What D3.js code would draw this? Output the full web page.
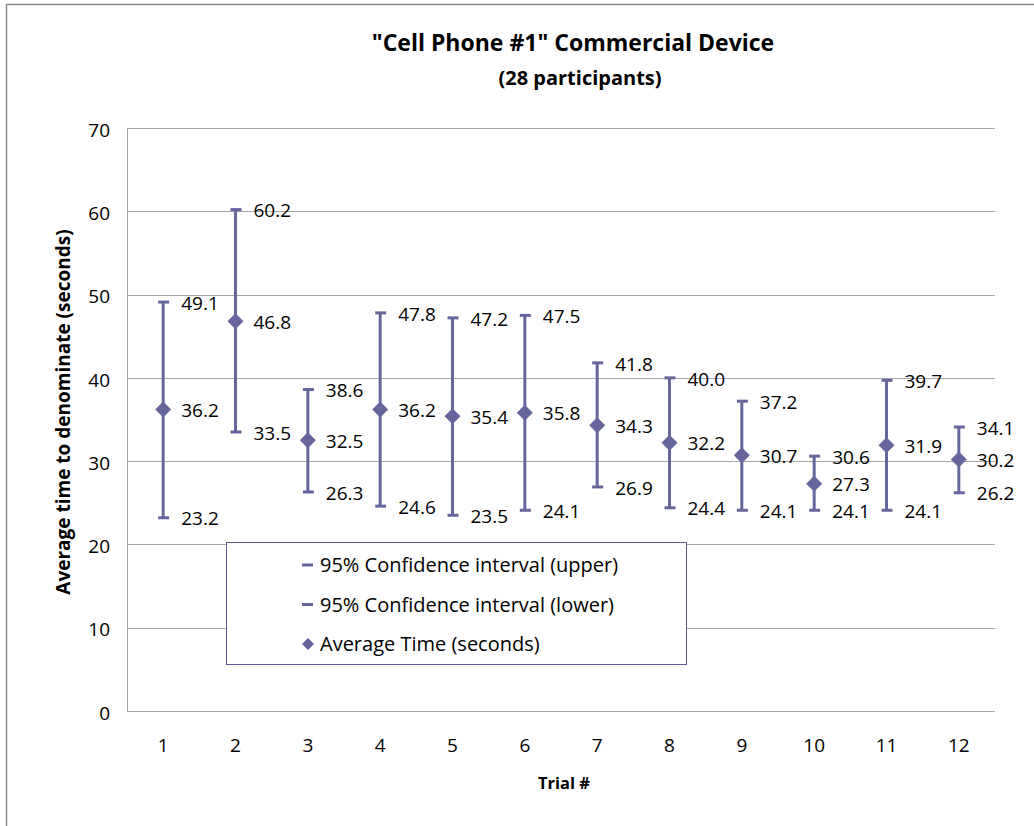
<!DOCTYPE html>
<html lang="en">
<head>
<meta charset="utf-8">
<title>Cell Phone #1 Commercial Device</title>
<script src="https://d3js.org/d3.v7.min.js"></script>
<style>
    body { margin: 0; background: #fff; }
    svg { display: block; font-family: "Open Sans", Lato, sans-serif; }
    .grid line { stroke: #a6a6a6; stroke-width: 1; }
    .tick-label { font-size: 19px; fill: #000; }
    .val-label { font-size: 19px; fill: #000; }
    .title { font-weight: bold; fill: #000; text-anchor: middle; }
    .legend text { font-size: 20px; fill: #000; }
</style>
</head>
<body>
<script>
// data
const trials = ["1","2","3","4","5","6","7","8","9","10","11","12"];
const upperCI = [49.1, 60.2, 38.6, 47.8, 47.2, 47.5, 41.8, 40.0, 37.2, 30.6, 39.7, 34.1];
const avgTime = [36.2, 46.8, 32.5, 36.2, 35.4, 35.8, 34.3, 32.2, 30.7, 27.3, 31.9, 30.2];
const lowerCI = [23.2, 33.5, 26.3, 24.6, 23.5, 24.1, 26.9, 24.4, 24.1, 24.1, 24.1, 26.2];
const yTicks = [0, 10, 20, 30, 40, 50, 60, 70];

const W = 1034, H = 826;
const plot = { left: 127, right: 995, top: 128, bottom: 711 };
const col = "#66669c";

const svg = d3.select("body").append("svg")
    .attr("width", W)
    .attr("height", H);

// outer chart border (runs off right/bottom like the original)
svg.append("rect")
    .attr("x", 6.5).attr("y", 4.5)
    .attr("width", 1040).attr("height", 840)
    .attr("fill", "none")
    .attr("stroke", "#8c8c8c")
    .attr("stroke-width", 1.5);

let x = d3.scaleBand()
    .domain(trials)
    .range([plot.left, plot.right]);

let y = d3.scaleLinear()
    .domain([0, 70])
    .range([plot.bottom, plot.top]);

// gridlines
svg.append("g").attr("class", "grid")
    .selectAll("line")
    .data(yTicks)
    .join("line")
    .attr("x1", plot.left).attr("x2", plot.right)
    .attr("y1", d => Math.round(y(d)) + 0.5)
    .attr("y2", d => Math.round(y(d)) + 0.5);

// left axis line
svg.append("line")
    .attr("x1", plot.left + 0.5).attr("x2", plot.left + 0.5)
    .attr("y1", plot.top).attr("y2", plot.bottom + 1)
    .attr("stroke", "#a6a6a6");

// y tick labels
svg.append("g")
    .selectAll("text")
    .data(yTicks)
    .join("text")
    .attr("class", "tick-label")
    .attr("x", 110)
    .attr("y", d => y(d) + 2)
    .attr("dy", "0.35em")
    .attr("text-anchor", "end")
    .text(d => d);

// x tick labels
svg.append("g")
    .selectAll("text")
    .data(trials)
    .join("text")
    .attr("class", "tick-label")
    .attr("x", d => x(d) + x.bandwidth() / 2)
    .attr("y", 745)
    .attr("dy", "0.35em")
    .attr("text-anchor", "middle")
    .text(d => d);

// titles
svg.append("text").attr("class", "title")
    .attr("x", 573).attr("y", 51)
    .style("font-size", "23px")
    .text('"Cell Phone #1" Commercial Device');
svg.append("text").attr("class", "title")
    .attr("x", 580).attr("y", 85)
    .style("font-size", "20px")
    .text("(28 participants)");
svg.append("text").attr("class", "title")
    .attr("transform", "translate(70,412) rotate(-90)")
    .style("font-size", "19px")
    .text("Average time to denominate (seconds)");
svg.append("text").attr("class", "title")
    .attr("x", 564).attr("y", 789)
    .style("font-size", "16.5px")
    .text("Trial #");

const cx = i => x(trials[i]) + x.bandwidth() / 2;
const fmt = d3.format(".1f");

// error bars
const bars = svg.append("g");
bars.selectAll("line.stem")
    .data(trials)
    .join("line")
    .attr("class", "stem")
    .attr("x1", (d, i) => cx(i)).attr("x2", (d, i) => cx(i))
    .attr("y1", (d, i) => y(upperCI[i]))
    .attr("y2", (d, i) => y(lowerCI[i]))
    .attr("stroke", col)
    .attr("stroke-width", 3);

function drawCaps(vals) {
    bars.append("g")
        .selectAll("rect")
        .data(vals)
        .join("rect")
        .attr("x", (d, i) => cx(i) - 5)
        .attr("y", d => y(d) - 1.5)
        .attr("width", 11)
        .attr("height", 3)
        .attr("fill", col);
}
drawCaps(upperCI);
drawCaps(lowerCI);

const diamond = "M0,-8L8,0L0,8L-8,0Z";
bars.append("g")
    .selectAll("path")
    .data(avgTime)
    .join("path")
    .attr("d", diamond)
    .attr("transform", (d, i) => "translate(" + cx(i) + "," + y(d) + ")")
    .attr("fill", col);

// value labels
function drawLabels(vals) {
    svg.append("g")
        .selectAll("text")
        .data(vals)
        .join("text")
        .attr("class", "val-label")
        .attr("x", (d, i) => cx(i) + 18)
        .attr("y", d => y(d) + 1)
        .attr("dy", "0.35em")
        .text(d => fmt(d));
}
drawLabels(upperCI);
drawLabels(avgTime);
drawLabels(lowerCI);

// legend
const lg = svg.append("g").attr("class", "legend");
lg.append("rect")
    .attr("x", 226.5).attr("y", 542.5)
    .attr("width", 460).attr("height", 122)
    .attr("fill", "#fff")
    .attr("stroke", "#5c5c9a")
    .attr("stroke-width", 1);

const legendItems = [
    { label: "95% Confidence interval (upper)", type: "dash" },
    { label: "95% Confidence interval (lower)", type: "dash" },
    { label: "Average Time (seconds)", type: "diamond" }
];
legendItems.forEach((it, i) => {
    let ly = 565 + i * 39.5;
    if (it.type === "dash") {
        lg.append("rect")
            .attr("x", 302).attr("y", ly - 1.5)
            .attr("width", 11).attr("height", 3)
            .attr("fill", col);
    } else {
        lg.append("path")
            .attr("d", "M0,-6L6,0L0,6L-6,0Z")
            .attr("transform", "translate(308," + ly + ")")
            .attr("fill", col);
    }
    lg.append("text")
        .attr("x", 320).attr("y", ly)
        .attr("dy", "0.35em")
        .text(it.label);
});
</script>
</body>
</html>
